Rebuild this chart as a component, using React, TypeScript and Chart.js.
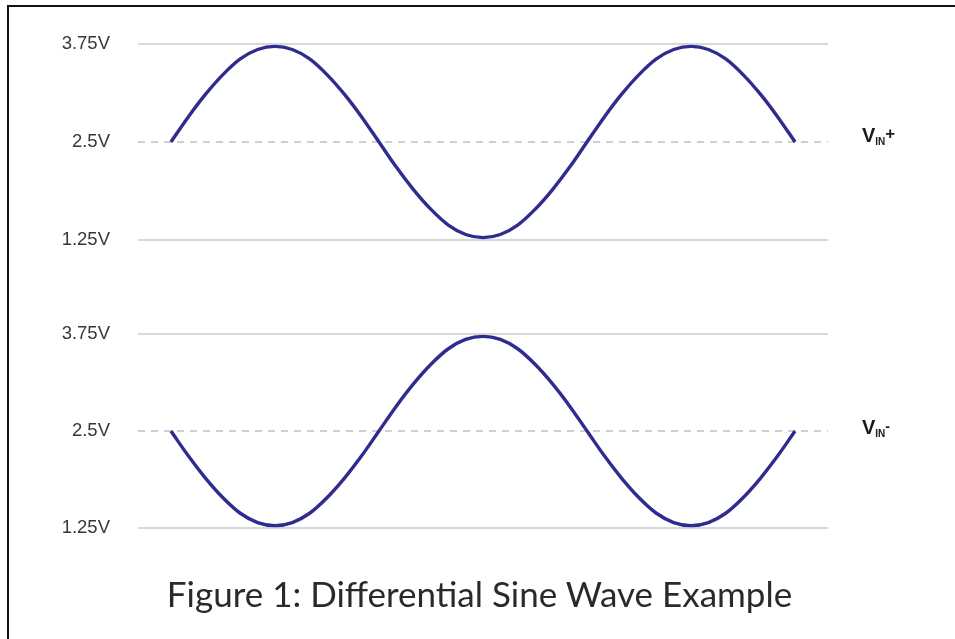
import React, { useEffect, useRef } from "react";
import { Chart, registerables } from "chart.js";

Chart.register(...registerables);

// Phase of the input signal, in degrees (1.5 cycles)
const phaseDeg = [
  0, 15, 30, 45, 60, 75, 90, 105, 120, 135, 150, 165, 180, 195, 210, 225, 240, 255, 270,
  285, 300, 315, 330, 345, 360, 375, 390, 405, 420, 435, 450, 465, 480, 495, 510, 525, 540,
];

// Positive leg of the differential pair (volts)
const vinPlus = [
  2.5, 2.82, 3.11, 3.36, 3.56, 3.68, 3.72, 3.68, 3.56, 3.36, 3.11, 2.82, 2.5, 2.18, 1.89, 1.64, 1.44, 1.32, 1.28,
  1.32, 1.44, 1.64, 1.89, 2.18, 2.5, 2.82, 3.11, 3.36, 3.56, 3.68, 3.72, 3.68, 3.56, 3.36, 3.11, 2.82, 2.5,
];

// Negative leg of the differential pair (volts)
const vinMinus = [
  2.5, 2.18, 1.89, 1.64, 1.44, 1.32, 1.28, 1.32, 1.44, 1.64, 1.89, 2.18, 2.5, 2.82, 3.11, 3.36, 3.56, 3.68, 3.72,
  3.68, 3.56, 3.36, 3.11, 2.82, 2.5, 2.18, 1.89, 1.64, 1.44, 1.32, 1.28, 1.32, 1.44, 1.64, 1.89, 2.18, 2.5,
];

const voltTicks = [1.25, 2.5, 3.75];
const voltTickLabels = ["1.25V", "2.5V", "3.75V"];
const commonMode = 2.5;
const titleText = "Figure 1: Differential Sine Wave Example";

const WIDTH = 955;
const PANEL_H = 290;

type PanelProps = {
  values: number[];
  top: number;
  padTop: number;
  padBottom: number;
  sign: string;
  labelTop: number;
  signTop: number;
  signSize: number;
};

function WavePanel({ values, top, padTop, padBottom, sign, labelTop, signTop, signSize }: PanelProps) {
  const ref = useRef<HTMLCanvasElement | null>(null);

  useEffect(() => {
    if (!ref.current) return;
    const chart = new Chart(ref.current, {
      type: "line",
      data: {
        datasets: [
          {
            data: phaseDeg.map((x, i) => ({ x, y: values[i] })),
            borderColor: "#2e2c8e",
            borderWidth: 3.4,
            pointRadius: 0,
            fill: false,
            cubicInterpolationMode: "monotone",
            clip: false,
          },
        ],
      },
      options: {
        animation: false,
        responsive: false,
        layout: { padding: { left: 0, right: 127, top: padTop, bottom: padBottom } },
        plugins: {
          legend: { display: false },
          tooltip: { enabled: false },
          title: { display: false },
        },
        scales: {
          x: { type: "linear", min: -28.5, max: 568.5, display: false },
          y: {
            min: 1.25,
            max: 3.75,
            afterBuildTicks: (s: any) => {
              s.ticks = voltTicks.map((v) => ({ value: v }));
            },
            afterFit: (s: any) => {
              s.width = 138;
            },
            grid: {
              drawTicks: false,
              lineWidth: 2,
              color: (ctx: any) => (ctx.tick && ctx.tick.value === commonMode ? "#d0d0d0" : "#d8d8d8"),
            },
            border: {
              display: false,
              dash: (ctx: any) => (ctx.tick && ctx.tick.value === commonMode ? [7, 6] : []),
            },
            ticks: {
              padding: 28,
              color: "#383838",
              font: { family: "'Liberation Sans', Arial, sans-serif", size: 18.5 },
              callback: (v: any) => {
                const i = voltTicks.indexOf(Number(v));
                return i >= 0 ? voltTickLabels[i] : "";
              },
            },
          },
        },
      },
    });
    return () => chart.destroy();
  }, [values, padTop, padBottom]);

  return (
    <>
      <div style={{ position: "absolute", left: 0, top, width: WIDTH, height: PANEL_H }}>
        <canvas ref={ref} width={WIDTH} height={PANEL_H} style={{ display: "block" }} />
      </div>
      <div
        style={{
          position: "absolute",
          left: 862,
          top: labelTop,
          fontFamily: "'Liberation Sans', Arial, sans-serif",
          fontWeight: 700,
          fontSize: 20,
          lineHeight: "20px",
          color: "#1a1a1a",
          whiteSpace: "nowrap",
        }}
      >
        V
        <span style={{ fontSize: 10, position: "relative", top: 3, marginLeft: 0 }}>IN</span>
        <span style={{ fontSize: signSize, position: "relative", top: signTop }}>{sign}</span>
      </div>
    </>
  );
}

export default function App() {
  return (
    <div
      style={{
        position: "fixed",
        left: 0,
        top: 0,
        width: WIDTH,
        height: 639,
        background: "#ffffff",
        overflow: "hidden",
      }}
    >
      <div
        style={{
          position: "absolute",
          left: 7,
          top: 5,
          right: 0,
          bottom: 0,
          borderTop: "2px solid #111",
          borderLeft: "2px solid #111",
        }}
      />
      <WavePanel values={vinPlus} top={0} padTop={44} padBottom={50} sign="+" labelTop={125} signTop={-3} signSize={17} />
      <WavePanel values={vinMinus} top={PANEL_H} padTop={44} padBottom={52} sign="-" labelTop={417} signTop={-3} signSize={14} />
      <div
        style={{
          position: "absolute",
          left: 0,
          top: 571,
          width: 959,
          textAlign: "center",
          fontFamily: "Lato, 'Open Sans', sans-serif",
          fontSize: 35,
          lineHeight: "44px",
          color: "#2a2a2a",
          whiteSpace: "nowrap",
        }}
      >
        {titleText}
      </div>
    </div>
  );
}
